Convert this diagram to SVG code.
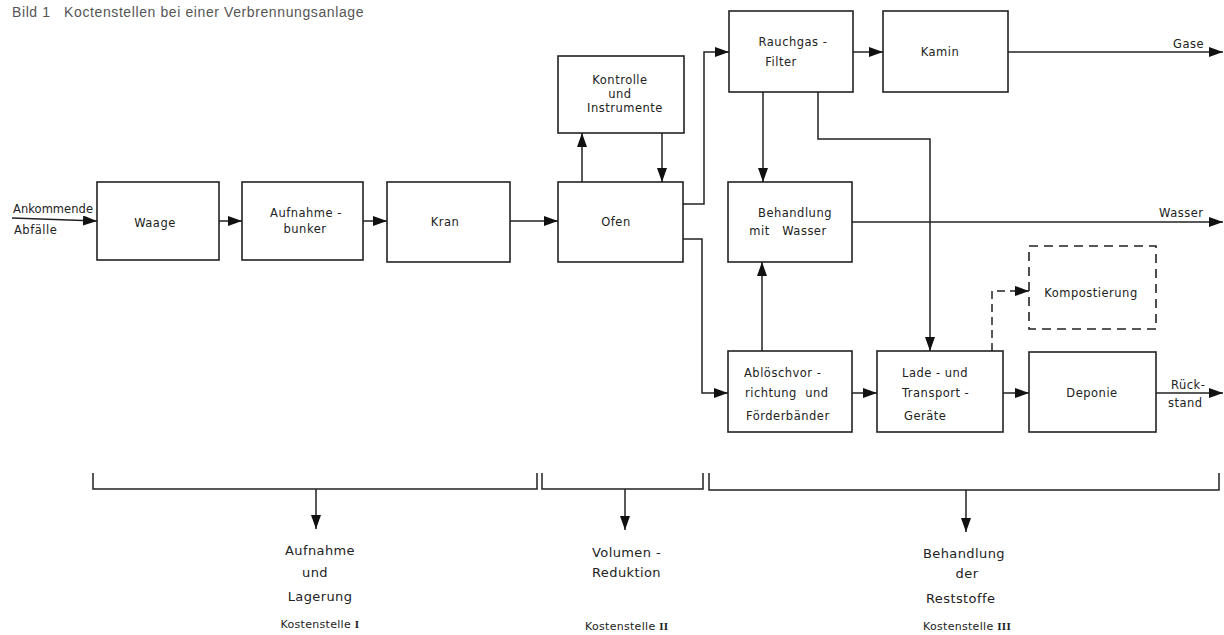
<svg xmlns="http://www.w3.org/2000/svg" width="1224" height="635" viewBox="0 0 1224 635">
<style>
.box{fill:#fff;stroke:#222;stroke-width:1.6}
.dash{fill:none;stroke:#222;stroke-width:1.6;stroke-dasharray:9,6}
.ln{fill:none;stroke:#222;stroke-width:1.5}
.lnd{fill:none;stroke:#222;stroke-width:1.5;stroke-dasharray:8,5}
text{font-family:"DejaVu Sans","Liberation Sans",sans-serif;fill:#222}
.t{font-size:11.5px;letter-spacing:0.5px}
.c{text-anchor:middle}
.b{font-size:13px;letter-spacing:0.4px}
.k{font-size:11px;letter-spacing:0.3px}
.title{font-family:"Liberation Sans",Arial,sans-serif;font-size:14px;fill:#555;letter-spacing:0.6px}
</style>
<defs>
<marker id="ah" markerUnits="userSpaceOnUse" markerWidth="16" markerHeight="12" refX="14" refY="5" orient="auto">
<path d="M0,0 L14,5 L0,10 z" fill="#111"/>
</marker>
</defs>
<rect width="1224" height="635" fill="#fff"/>
<text class="title" x="12" y="17" xml:space="preserve">Bild 1   Koctenstellen bei einer Verbrennungsanlage</text>

<g id="waage"><rect class="box" x="97" y="182" width="122" height="78"/><text class="t c" x="155" y="227">Waage</text></g>
<g id="bunker"><rect class="box" x="242" y="182" width="121" height="78"/><text class="t c" x="306" y="217">Aufnahme -</text><text class="t c" x="305" y="233">bunker</text></g>
<g id="kran"><rect class="box" x="387" y="182" width="123" height="80"/><text class="t c" x="445" y="226">Kran</text></g>
<g id="ofen"><rect class="box" x="558" y="182" width="125" height="80"/><text class="t c" x="616" y="226">Ofen</text></g>
<g id="kontrolle"><rect class="box" x="558" y="56" width="126" height="77"/><text class="t c" x="620" y="84">Kontrolle</text><text class="t c" x="620" y="98">und</text><text class="t c" x="625" y="112">Instrumente</text></g>
<g id="filter"><rect class="box" x="729" y="11" width="124" height="81"/><text class="t c" x="793" y="46">Rauchgas -</text><text class="t c" x="781" y="66">Filter</text></g>
<g id="kamin"><rect class="box" x="883" y="11" width="125" height="81"/><text class="t c" x="940" y="56">Kamin</text></g>
<g id="behandlung"><rect class="box" x="728" y="182" width="124" height="80"/><text class="t c" x="795" y="217">Behandlung</text><text class="t c" x="788" y="235" xml:space="preserve">mit   Wasser</text></g>
<g id="kompost"><rect class="dash" x="1029" y="246" width="127" height="83"/><text class="t c" x="1091" y="297">Kompostierung</text></g>
<g id="abloesch"><rect class="box" x="728" y="351" width="124" height="81"/><text class="t" x="744" y="377">Ablöschvor -</text><text class="t" x="745" y="397" xml:space="preserve">richtung  und</text><text class="t" x="746" y="420">Förderbänder</text></g>
<g id="lade"><rect class="box" x="877" y="351" width="126" height="81"/><text class="t" x="902" y="377">Lade - und</text><text class="t" x="902" y="397">Transport -</text><text class="t" x="904" y="420">Geräte</text></g>
<g id="deponie"><rect class="box" x="1029" y="352" width="127" height="80"/><text class="t c" x="1092" y="397">Deponie</text></g>

<g id="labels">
<text class="t" x="13" y="213" style="letter-spacing:0px" textLength="80">Ankommende</text>
<text class="t" x="14" y="234">Abfälle</text>
<text class="t" x="1173" y="48">Gase</text>
<text class="t" x="1159" y="217">Wasser</text>
<text class="t" x="1171" y="389">Rück-</text>
<text class="t" x="1168" y="407">stand</text>
</g>

<g id="connectors">
<path class="ln" d="M12,218 L97,221" marker-end="url(#ah)"/>
<path class="ln" d="M219,221 H242" marker-end="url(#ah)"/>
<path class="ln" d="M363,221 H387" marker-end="url(#ah)"/>
<path class="ln" d="M510,221 H558" marker-end="url(#ah)"/>
<path class="ln" d="M582,182 V133" marker-end="url(#ah)"/>
<path class="ln" d="M662,133 V182" marker-end="url(#ah)"/>
<path class="ln" d="M683,204 H704 V52 H729" marker-end="url(#ah)"/>
<path class="ln" d="M683,239 H702 V393 H728" marker-end="url(#ah)"/>
<path class="ln" d="M853,52 H883" marker-end="url(#ah)"/>
<path class="ln" d="M1008,52 H1223" marker-end="url(#ah)"/>
<path class="ln" d="M763,92 V182" marker-end="url(#ah)"/>
<path class="ln" d="M818,92 V139 H930 V351" marker-end="url(#ah)"/>
<path class="ln" d="M852,222 H1223" marker-end="url(#ah)"/>
<path class="ln" d="M762,351 V262" marker-end="url(#ah)"/>
<path class="ln" d="M852,393 H877" marker-end="url(#ah)"/>
<path class="ln" d="M1003,393 H1029" marker-end="url(#ah)"/>
<path class="ln" d="M1156,393 H1223" marker-end="url(#ah)"/>
<path class="lnd" d="M992,351 V291 H1029" marker-end="url(#ah)"/>
</g>

<g id="brackets">
<path class="ln" d="M93,473 V489 H537 V473"/>
<path class="ln" d="M542,473 V489 H703 V473"/>
<path class="ln" d="M709,473 V490 H1219 V473"/>
<path class="ln" d="M316,489 V529" marker-end="url(#ah)"/>
<path class="ln" d="M625,489 V530" marker-end="url(#ah)"/>
<path class="ln" d="M966,490 V532" marker-end="url(#ah)"/>
</g>

<g id="kostenstelle1">
<text class="b c" x="320" y="555">Aufnahme</text>
<text class="b c" x="315" y="577">und</text>
<text class="b c" x="320" y="601">Lagerung</text>
<text class="k c" x="320" y="628">Kostenstelle <tspan font-family="Liberation Serif,serif" font-weight="bold">I</tspan></text>
</g>
<g id="kostenstelle2">
<text class="b" x="592" y="557">Volumen -</text>
<text class="b" x="592" y="577">Reduktion</text>
<text class="k" x="585" y="630">Kostenstelle <tspan font-family="Liberation Serif,serif" font-weight="bold">II</tspan></text>
</g>
<g id="kostenstelle3">
<text class="b" x="923" y="558">Behandlung</text>
<text class="b c" x="967" y="578">der</text>
<text class="b" x="926" y="603">Reststoffe</text>
<text class="k" x="923" y="630">Kostenstelle <tspan font-family="Liberation Serif,serif" font-weight="bold">III</tspan></text>
</g>
</svg>
